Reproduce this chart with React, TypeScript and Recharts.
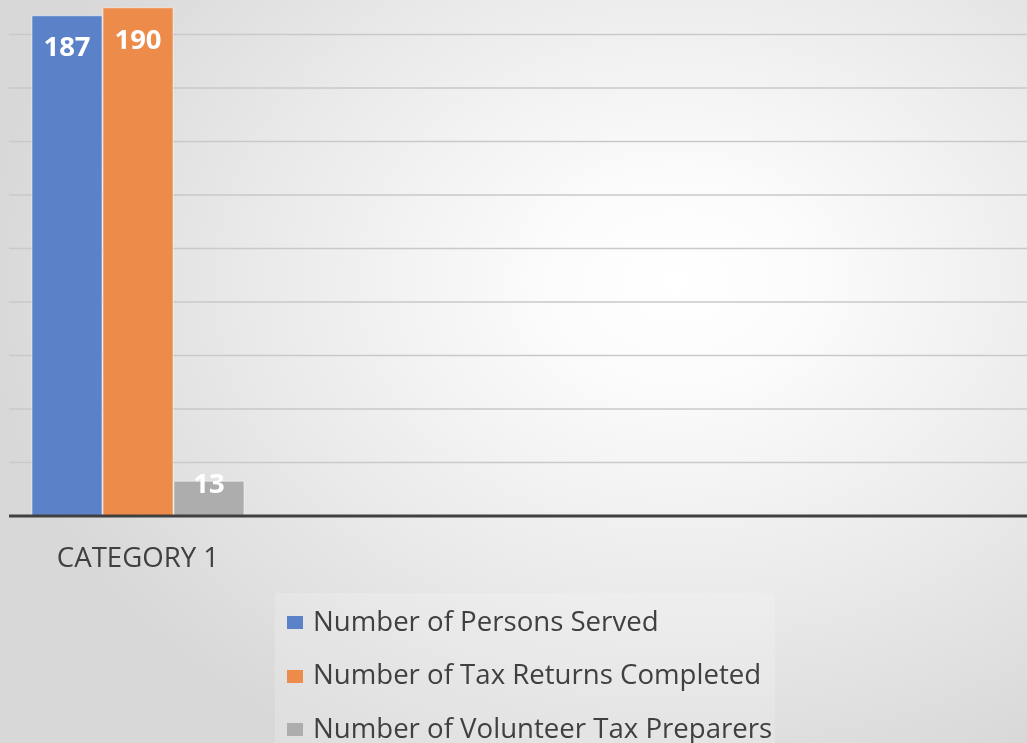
import { BarChart, Bar, XAxis, YAxis, CartesianGrid, Legend, LabelList } from "recharts";

const categories = ["CATEGORY 1"];
const personsServed = [187];
const returnsCompleted = [190];
const volunteerPreparers = [13];
const seriesNames = [
  "Number of Persons Served",
  "Number of Tax Returns Completed",
  "Number of Volunteer Tax Preparers",
];
const yTicks = [0, 20, 40, 60, 80, 100, 120, 140, 160, 180, 200];

const COLORS = ["#5b82c9", "#ed8b4a", "#adadad"];
const FONT = "'Open Sans', 'Noto Sans', sans-serif";

const data = categories.map((name, i) => ({
  name,
  persons: personsServed[i],
  returns: returnsCompleted[i],
  volunteers: volunteerPreparers[i],
}));

function LegendBox(props: any) {
  const items = props.payload || [];
  return (
    <div
      style={{
        background: "rgba(255,255,255,0.18)",
        width: 500,
        fontFamily: FONT,
        fontSize: 27.6,
        color: "#404040",
      }}
    >
      {items.map((it: any, i: number) => (
        <div
          key={`lg-${i}`}
          style={{ height: 53.5, display: "flex", alignItems: "center", paddingLeft: 12 }}
        >
          <span
            style={{
              display: "inline-block",
              width: 16,
              height: 13,
              marginRight: 10,
              marginTop: 6,
              background: it.color,
            }}
          />
          <span>{it.value}</span>
        </div>
      ))}
    </div>
  );
}

export default function App() {
  return (
    <div
      style={{
        position: "fixed",
        left: 0,
        top: 0,
        width: 1027,
        height: 743,
        overflow: "hidden",
        background:
          "radial-gradient(ellipse 75% 80% at 66% 38%, #ffffff 0%, #fbfbfb 18%, #ececec 50%, #d8d8d8 90%)",
      }}
    >
      <div style={{ position: "absolute", left: 0, top: -30 }}>
        <BarChart
          width={1027}
          height={773}
          data={data}
          margin={{ top: 11, right: 0, bottom: 167, left: 9 }}
          barSize={70}
          barGap={1}
        >
          <CartesianGrid vertical={false} stroke="#c9c9c9" strokeWidth={1.5} />
          <YAxis hide domain={[0, 200]} ticks={yTicks} />
          <XAxis
            dataKey="name"
            padding={{ left: 0, right: 760 }}
            tickLine={false}
            tickSize={0}
            tickMargin={31}
            axisLine={{ stroke: "#404040", strokeWidth: 3 }}
            tick={{ fontSize: 27.6, fill: "#404040", fontFamily: FONT }}
            height={60}
          />
          <Legend
            layout="vertical"
            align="center"
            verticalAlign="middle"
            content={<LegendBox />}
            wrapperStyle={{ left: 275, top: 623, width: 500 }}
          />
          <Bar dataKey="persons" name={seriesNames[0]} fill={COLORS[0]} stroke="rgba(255,255,255,0.5)" strokeWidth={1} isAnimationActive={false}>
            <LabelList dataKey="persons" position="insideTop" offset={21} fill="#ffffff" fontSize={27.5} fontWeight={700} fontFamily={FONT} />
          </Bar>
          <Bar dataKey="returns" name={seriesNames[1]} fill={COLORS[1]} stroke="rgba(255,255,255,0.5)" strokeWidth={1} isAnimationActive={false}>
            <LabelList dataKey="returns" position="insideTop" offset={22} fill="#ffffff" fontSize={27.5} fontWeight={700} fontFamily={FONT} />
          </Bar>
          <Bar dataKey="volunteers" name={seriesNames[2]} fill={COLORS[2]} stroke="rgba(255,255,255,0.5)" strokeWidth={1} isAnimationActive={false}>
            <LabelList dataKey="volunteers" position="insideTop" offset={-8} fill="#ffffff" fontSize={27.5} fontWeight={700} fontFamily={FONT} />
          </Bar>
        </BarChart>
      </div>
    </div>
  );
}
